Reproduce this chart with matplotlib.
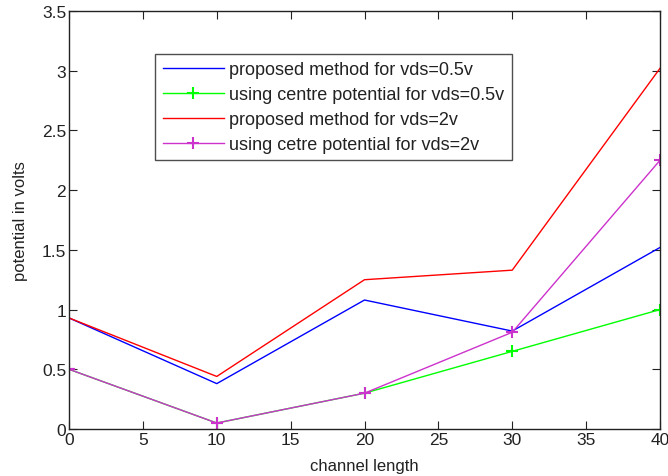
import matplotlib
matplotlib.use('Agg')
import matplotlib.pyplot as plt

plt.rcParams['font.family'] = ['Liberation Sans', 'DejaVu Sans']

x = [0, 10, 20, 30, 40]
prop_05 = [0.93, 0.38, 1.08, 0.82, 1.52]
centre_05 = [0.50, 0.05, 0.30, 0.65, 1.00]
prop_2 = [0.93, 0.44, 1.25, 1.33, 3.02]
centre_2 = [0.50, 0.05, 0.30, 0.81, 2.25]
labels = ['proposed method for vds=0.5v', 'using centre potential for vds=0.5v',
          'proposed method for vds=2v', 'using cetre potential for vds=2v']

fig = plt.figure(figsize=(6.68, 4.77), dpi=100)
ax = fig.add_axes([69/668, 47/477, 591/668, 418/477])

ax.plot(x, prop_05, color='#0000ff', lw=1.0, label=labels[0])
ax.plot(x, centre_05, color='#00ff00', lw=1.0, marker='+', ms=9, mew=1.5, label=labels[1])
ax.plot(x, prop_2, color='#ff0000', lw=1.0, label=labels[2])
ax.plot(x, centre_2, color='#cc33cc', lw=1.0, marker='+', ms=9, mew=1.5, label=labels[3])

ax.set_xlim(0, 40)
ax.set_ylim(0, 3.5)
ax.set_xticks(range(0, 41, 5))
ax.set_yticks([0, 0.5, 1, 1.5, 2, 2.5, 3, 3.5])
ax.set_yticklabels(['0', '0.5', '1', '1.5', '2', '2.5', '3', '3.5'])
ax.tick_params(direction='in', top=True, right=True, labelsize=12.5, length=6, pad=2,
               colors='#222222')
for s in ax.spines.values():
    s.set_linewidth(1.0)
    s.set_color('#222222')
ax.set_xlabel('channel length', fontsize=12, labelpad=8, color='#222222')
ax.set_ylabel('potential in volts', fontsize=12, labelpad=10, color='#222222')

leg = ax.legend(loc='upper left', bbox_to_anchor=(0.146, 0.898), fontsize=13,
                frameon=True, fancybox=False, edgecolor='#222222', handlelength=3.4,
                borderpad=0.4, labelspacing=0.45, handletextpad=0.3, borderaxespad=0)
leg.get_frame().set_linewidth(1.0)
for t in leg.get_texts():
    t.set_color('#222222')

fig.savefig('out.png', dpi=100)
